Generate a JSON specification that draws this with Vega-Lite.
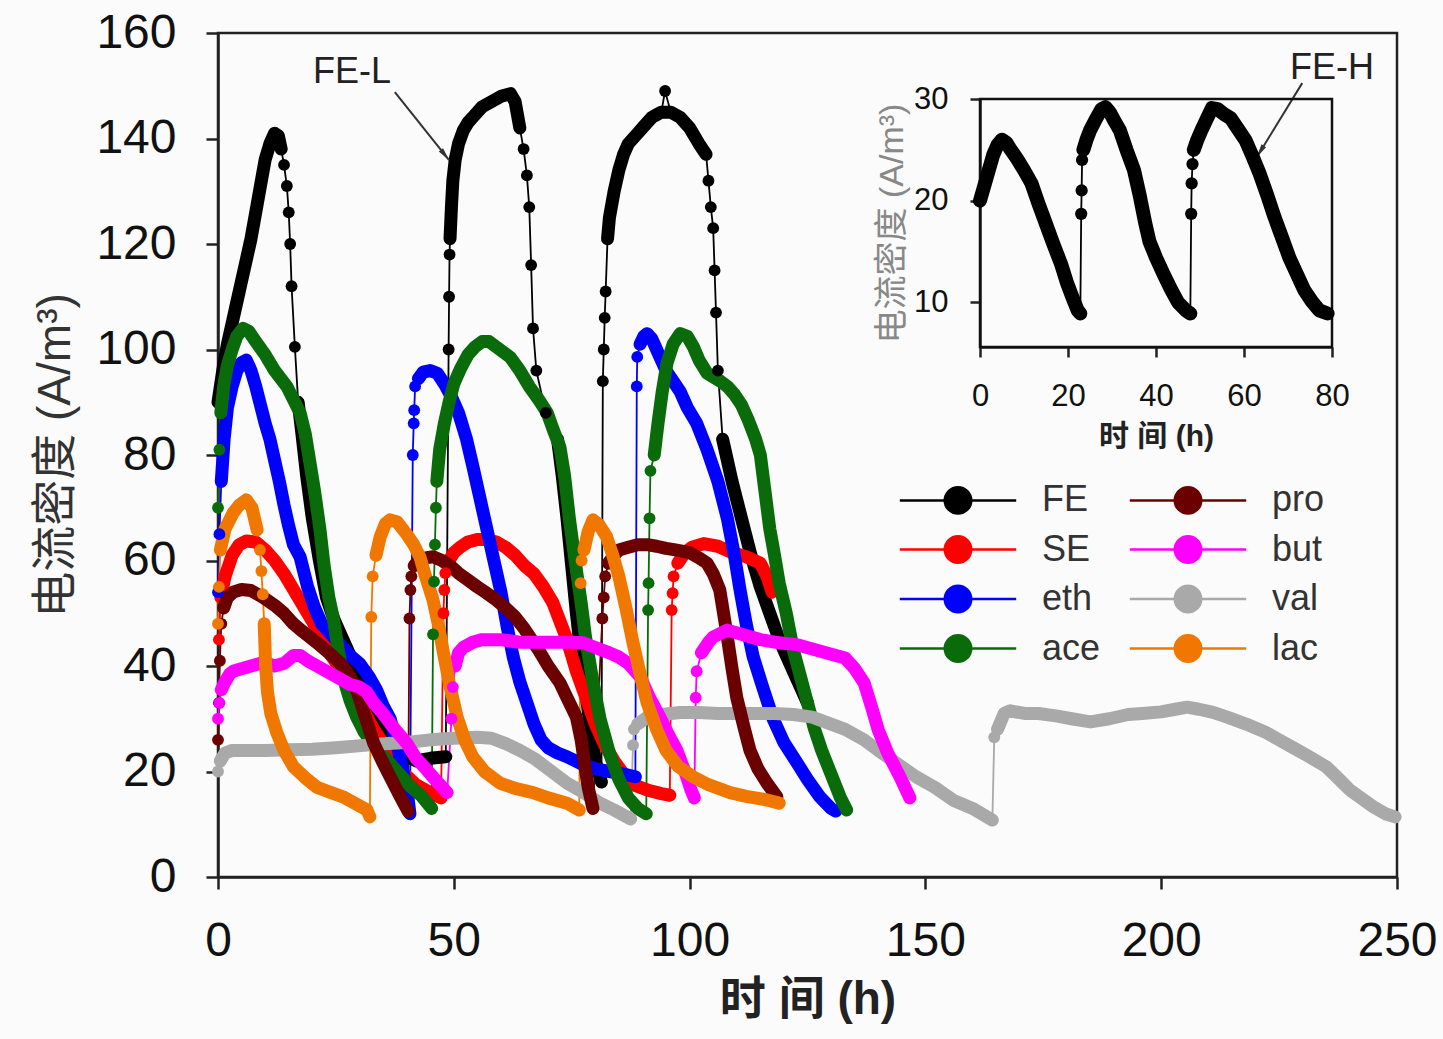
{
"$schema":"https://vega.github.io/schema/vega-lite/v6.json",
"width":1179,"height":844,
"autosize":"none",
"padding":{"left":218,"top":33,"right":46,"bottom":162},
"background":"#fbfbfb",
"config":{"view":{"stroke":"#222","strokeWidth":2.5},"axis":{"grid":false,"labelFont":"Liberation Sans","titleFont":"Liberation Sans, Noto Sans CJK SC","labelColor":"#111","domainColor":"#222","tickColor":"#222","domainWidth":2.5,"tickWidth":2.5,"labelFlush":false,"labelOverlap":false}},
"datasets":{
"main":[
{"s":"FE","c":1,"t":0,"v":90},{"s":"FE","c":1,"t":1,"v":96},{"s":"FE","c":1,"t":2,"v":101},{"s":"FE","c":1,"t":3,"v":105},{"s":"FE","c":1,"t":4,"v":109},{"s":"FE","c":1,"t":5,"v":113},{"s":"FE","c":1,"t":6,"v":117},{"s":"FE","c":1,"t":7,"v":121},{"s":"FE","c":1,"t":8,"v":126},{"s":"FE","c":1,"t":9,"v":131},{"s":"FE","c":1,"t":10,"v":136},{"s":"FE","c":1,"t":11,"v":139},{"s":"FE","c":1,"t":12,"v":141},{"s":"FE","c":1,"t":12.8,"v":140.5},{"s":"FE","c":1,"t":13.4,"v":138},
{"s":"FE","c":0,"t":14,"v":135},{"s":"FE","c":0,"t":14.6,"v":131},{"s":"FE","c":0,"t":15,"v":126},{"s":"FE","c":0,"t":15.3,"v":120},{"s":"FE","c":0,"t":15.6,"v":112},{"s":"FE","c":0,"t":16.3,"v":100.5},
{"s":"FE","c":2,"t":17,"v":90},{"s":"FE","c":2,"t":17.8,"v":84},{"s":"FE","c":2,"t":18.8,"v":76},{"s":"FE","c":2,"t":20,"v":68},{"s":"FE","c":2,"t":21.5,"v":60},{"s":"FE","c":2,"t":23,"v":53},{"s":"FE","c":2,"t":24.5,"v":49},{"s":"FE","c":2,"t":26,"v":46},{"s":"FE","c":2,"t":28,"v":42},{"s":"FE","c":2,"t":30,"v":38},{"s":"FE","c":2,"t":32,"v":34},{"s":"FE","c":2,"t":34,"v":30.5},{"s":"FE","c":2,"t":36,"v":27.5},{"s":"FE","c":2,"t":38,"v":25},{"s":"FE","c":2,"t":40,"v":23},{"s":"FE","c":2,"t":42,"v":22},{"s":"FE","c":2,"t":45,"v":22.5},{"s":"FE","c":2,"t":48.3,"v":22.8},
{"s":"FE","c":0,"t":48.9,"v":100},{"s":"FE","c":0,"t":49,"v":110},{"s":"FE","c":0,"t":49.1,"v":118},
{"s":"FE","c":3,"t":49.2,"v":121},{"s":"FE","c":3,"t":49.5,"v":127},{"s":"FE","c":3,"t":49.8,"v":132},{"s":"FE","c":3,"t":50.3,"v":136},{"s":"FE","c":3,"t":51,"v":139},{"s":"FE","c":3,"t":52,"v":141.5},{"s":"FE","c":3,"t":53,"v":143},{"s":"FE","c":3,"t":54.5,"v":144.5},{"s":"FE","c":3,"t":56,"v":146},{"s":"FE","c":3,"t":58,"v":147},{"s":"FE","c":3,"t":60,"v":148},{"s":"FE","c":3,"t":62,"v":148.5},{"s":"FE","c":3,"t":63,"v":147},{"s":"FE","c":3,"t":64,"v":142},
{"s":"FE","c":0,"t":64.8,"v":138},{"s":"FE","c":0,"t":65.5,"v":133},{"s":"FE","c":0,"t":66,"v":127},{"s":"FE","c":0,"t":66.4,"v":116},{"s":"FE","c":0,"t":66.8,"v":104},{"s":"FE","c":0,"t":67.5,"v":96},{"s":"FE","c":0,"t":69.5,"v":88},
{"s":"FE","c":4,"t":72,"v":83},{"s":"FE","c":4,"t":73,"v":76},{"s":"FE","c":4,"t":74,"v":68},{"s":"FE","c":4,"t":75,"v":59},{"s":"FE","c":4,"t":76,"v":50},{"s":"FE","c":4,"t":77,"v":42},{"s":"FE","c":4,"t":78,"v":35},{"s":"FE","c":4,"t":79,"v":28},{"s":"FE","c":4,"t":80,"v":22},{"s":"FE","c":4,"t":81.3,"v":18},
{"s":"FE","c":0,"t":81.6,"v":94},{"s":"FE","c":0,"t":81.8,"v":100},{"s":"FE","c":0,"t":82,"v":106},{"s":"FE","c":0,"t":82.2,"v":111},
{"s":"FE","c":5,"t":82.6,"v":121},{"s":"FE","c":5,"t":83,"v":125},{"s":"FE","c":5,"t":84,"v":130},{"s":"FE","c":5,"t":85,"v":134},{"s":"FE","c":5,"t":86,"v":137},{"s":"FE","c":5,"t":87,"v":139},{"s":"FE","c":5,"t":88,"v":140},{"s":"FE","c":5,"t":89,"v":141},{"s":"FE","c":5,"t":90,"v":142},{"s":"FE","c":5,"t":91,"v":143},{"s":"FE","c":5,"t":92,"v":144},{"s":"FE","c":5,"t":93,"v":144.5},{"s":"FE","c":5,"t":94,"v":145},{"s":"FE","c":0,"t":94.8,"v":149},{"s":"FE","c":5,"t":96,"v":145},{"s":"FE","c":5,"t":98,"v":144},{"s":"FE","c":5,"t":100,"v":142},{"s":"FE","c":5,"t":102,"v":139},{"s":"FE","c":5,"t":103.5,"v":137},
{"s":"FE","c":0,"t":104,"v":132},{"s":"FE","c":0,"t":104.5,"v":127},{"s":"FE","c":0,"t":105,"v":123},{"s":"FE","c":0,"t":105.3,"v":115},{"s":"FE","c":0,"t":105.6,"v":107},{"s":"FE","c":0,"t":106,"v":96},
{"s":"FE","c":6,"t":107,"v":83},{"s":"FE","c":6,"t":109,"v":75},{"s":"FE","c":6,"t":111,"v":68},{"s":"FE","c":6,"t":113,"v":61},{"s":"FE","c":6,"t":115,"v":55},{"s":"FE","c":6,"t":117,"v":50},{"s":"FE","c":6,"t":119,"v":45},{"s":"FE","c":6,"t":121,"v":41},{"s":"FE","c":6,"t":123,"v":37},{"s":"FE","c":6,"t":125,"v":33},

{"s":"SE","c":0,"t":0.2,"v":45},
{"s":"SE","c":1,"t":0.6,"v":53},{"s":"SE","c":1,"t":1.5,"v":57},{"s":"SE","c":1,"t":3,"v":61},{"s":"SE","c":1,"t":4.5,"v":63},{"s":"SE","c":1,"t":6,"v":63.7},{"s":"SE","c":1,"t":8,"v":63.5},{"s":"SE","c":1,"t":10,"v":62},{"s":"SE","c":1,"t":12,"v":60},{"s":"SE","c":1,"t":14,"v":57.5},{"s":"SE","c":1,"t":16,"v":54.5},{"s":"SE","c":1,"t":18,"v":51.5},{"s":"SE","c":1,"t":20,"v":48.5},{"s":"SE","c":1,"t":22,"v":45},{"s":"SE","c":1,"t":24,"v":42},{"s":"SE","c":1,"t":27,"v":38},{"s":"SE","c":1,"t":30,"v":33},{"s":"SE","c":1,"t":33,"v":28},{"s":"SE","c":1,"t":36,"v":24},{"s":"SE","c":1,"t":39,"v":20},{"s":"SE","c":1,"t":42,"v":17.5},{"s":"SE","c":1,"t":45,"v":16},{"s":"SE","c":1,"t":47.3,"v":15},
{"s":"SE","c":0,"t":47.8,"v":50},{"s":"SE","c":0,"t":48,"v":54.4},{"s":"SE","c":0,"t":48.2,"v":57.6},
{"s":"SE","c":2,"t":49,"v":60},{"s":"SE","c":2,"t":50,"v":61.5},{"s":"SE","c":2,"t":51.3,"v":62.5},{"s":"SE","c":2,"t":53,"v":63.5},{"s":"SE","c":2,"t":55,"v":64},{"s":"SE","c":2,"t":57,"v":64},{"s":"SE","c":2,"t":59,"v":63.5},{"s":"SE","c":2,"t":61,"v":62.5},{"s":"SE","c":2,"t":63,"v":61},{"s":"SE","c":2,"t":65,"v":59},{"s":"SE","c":2,"t":67,"v":57.5},{"s":"SE","c":2,"t":69,"v":55},{"s":"SE","c":2,"t":71,"v":52},{"s":"SE","c":2,"t":72.5,"v":48.5},{"s":"SE","c":2,"t":74,"v":45},{"s":"SE","c":2,"t":76,"v":39},{"s":"SE","c":2,"t":78,"v":34},{"s":"SE","c":2,"t":80,"v":29},{"s":"SE","c":2,"t":82,"v":25},{"s":"SE","c":2,"t":84,"v":22},{"s":"SE","c":2,"t":86,"v":19.5},{"s":"SE","c":2,"t":88,"v":17.5},{"s":"SE","c":2,"t":91,"v":16.5},{"s":"SE","c":2,"t":94,"v":15.8},{"s":"SE","c":2,"t":95.8,"v":15.5},
{"s":"SE","c":0,"t":96.2,"v":50.6},{"s":"SE","c":0,"t":96.4,"v":53.8},{"s":"SE","c":0,"t":96.6,"v":57},
{"s":"SE","c":3,"t":97.5,"v":59.5},{"s":"SE","c":3,"t":99,"v":61.5},{"s":"SE","c":3,"t":100.5,"v":62.5},{"s":"SE","c":3,"t":103,"v":63.2},{"s":"SE","c":3,"t":106,"v":62.7},{"s":"SE","c":3,"t":109,"v":61.5},{"s":"SE","c":3,"t":112,"v":60.7},{"s":"SE","c":3,"t":115,"v":59.5},{"s":"SE","c":3,"t":116.4,"v":57},{"s":"SE","c":3,"t":117.5,"v":54},

{"s":"eth","c":0,"t":0,"v":54},{"s":"eth","c":0,"t":0.3,"v":65},
{"s":"eth","c":1,"t":0.7,"v":75},{"s":"eth","c":1,"t":1.3,"v":83},{"s":"eth","c":1,"t":2,"v":89},{"s":"eth","c":1,"t":3,"v":93},{"s":"eth","c":1,"t":4,"v":96},{"s":"eth","c":1,"t":5,"v":97.5},{"s":"eth","c":1,"t":6,"v":98},{"s":"eth","c":1,"t":7,"v":96},{"s":"eth","c":1,"t":8,"v":93},{"s":"eth","c":1,"t":9,"v":89.5},{"s":"eth","c":1,"t":10,"v":86},{"s":"eth","c":1,"t":11,"v":83},{"s":"eth","c":1,"t":12,"v":79},{"s":"eth","c":1,"t":13,"v":75},{"s":"eth","c":1,"t":14,"v":70.5},{"s":"eth","c":1,"t":15,"v":66.5},{"s":"eth","c":1,"t":16,"v":63},{"s":"eth","c":1,"t":17.4,"v":60.7},{"s":"eth","c":1,"t":19,"v":55},{"s":"eth","c":1,"t":20.5,"v":51},{"s":"eth","c":1,"t":22,"v":48},{"s":"eth","c":1,"t":24,"v":46},{"s":"eth","c":1,"t":26,"v":44},{"s":"eth","c":1,"t":28,"v":42},{"s":"eth","c":1,"t":30,"v":40.5},{"s":"eth","c":1,"t":32,"v":38},{"s":"eth","c":1,"t":33.6,"v":35.5},{"s":"eth","c":1,"t":35,"v":32.5},{"s":"eth","c":1,"t":36.5,"v":30},{"s":"eth","c":1,"t":38,"v":25},{"s":"eth","c":1,"t":39,"v":21},{"s":"eth","c":1,"t":40,"v":17},{"s":"eth","c":1,"t":40.7,"v":12},
{"s":"eth","c":0,"t":41.3,"v":80},{"s":"eth","c":0,"t":41.5,"v":86},{"s":"eth","c":0,"t":41.6,"v":88.5},{"s":"eth","c":0,"t":41.8,"v":93},
{"s":"eth","c":2,"t":42.5,"v":94.5},{"s":"eth","c":2,"t":43.5,"v":95.7},{"s":"eth","c":2,"t":45,"v":96},{"s":"eth","c":2,"t":46.5,"v":95.5},{"s":"eth","c":2,"t":48,"v":93.5},{"s":"eth","c":2,"t":49.5,"v":91},{"s":"eth","c":2,"t":51,"v":88},{"s":"eth","c":2,"t":52.7,"v":83},{"s":"eth","c":2,"t":54,"v":78},{"s":"eth","c":2,"t":55.5,"v":72},{"s":"eth","c":2,"t":57,"v":66},{"s":"eth","c":2,"t":58.5,"v":60},{"s":"eth","c":2,"t":60,"v":54},{"s":"eth","c":2,"t":61.3,"v":47.5},{"s":"eth","c":2,"t":62.6,"v":41.7},{"s":"eth","c":2,"t":64,"v":37},{"s":"eth","c":2,"t":65.5,"v":33},{"s":"eth","c":2,"t":67,"v":29},{"s":"eth","c":2,"t":68.5,"v":26},{"s":"eth","c":2,"t":70,"v":24.5},{"s":"eth","c":2,"t":72,"v":23.5},{"s":"eth","c":2,"t":74,"v":22.8},{"s":"eth","c":2,"t":77,"v":21.5},{"s":"eth","c":2,"t":80,"v":20.5},{"s":"eth","c":2,"t":83,"v":20},{"s":"eth","c":2,"t":86,"v":19.5},{"s":"eth","c":2,"t":88.5,"v":19},
{"s":"eth","c":0,"t":88.8,"v":93},{"s":"eth","c":0,"t":88.9,"v":98.6},
{"s":"eth","c":3,"t":89.5,"v":101},{"s":"eth","c":3,"t":90.3,"v":102.5},{"s":"eth","c":3,"t":91,"v":103},{"s":"eth","c":3,"t":92,"v":102},{"s":"eth","c":3,"t":93,"v":100},{"s":"eth","c":3,"t":94,"v":98},{"s":"eth","c":3,"t":95,"v":96},{"s":"eth","c":3,"t":96.5,"v":94},{"s":"eth","c":3,"t":98,"v":92},{"s":"eth","c":3,"t":99.5,"v":89},{"s":"eth","c":3,"t":101.5,"v":86},{"s":"eth","c":3,"t":103.7,"v":81},{"s":"eth","c":3,"t":106,"v":75},{"s":"eth","c":3,"t":108,"v":68},{"s":"eth","c":3,"t":109.5,"v":61},{"s":"eth","c":3,"t":110.7,"v":54.4},{"s":"eth","c":3,"t":112,"v":48},{"s":"eth","c":3,"t":113.5,"v":41.7},{"s":"eth","c":3,"t":115.5,"v":36},{"s":"eth","c":3,"t":117.7,"v":30},{"s":"eth","c":3,"t":120,"v":25.5},{"s":"eth","c":3,"t":122.8,"v":21.6},{"s":"eth","c":3,"t":125,"v":18.5},{"s":"eth","c":3,"t":127.6,"v":15.2},{"s":"eth","c":3,"t":130,"v":13},{"s":"eth","c":3,"t":131,"v":12.5},

{"s":"ace","c":0,"t":0,"v":70},{"s":"ace","c":0,"t":0.3,"v":81},
{"s":"ace","c":1,"t":0.6,"v":88},{"s":"ace","c":1,"t":1.2,"v":93},{"s":"ace","c":1,"t":2,"v":97},{"s":"ace","c":1,"t":3,"v":100},{"s":"ace","c":1,"t":4,"v":102.5},{"s":"ace","c":1,"t":5.3,"v":104},{"s":"ace","c":1,"t":6.5,"v":103.5},{"s":"ace","c":1,"t":8,"v":101.5},{"s":"ace","c":1,"t":10,"v":99},{"s":"ace","c":1,"t":12,"v":96},{"s":"ace","c":1,"t":14.6,"v":93},{"s":"ace","c":1,"t":16,"v":90.5},{"s":"ace","c":1,"t":17.4,"v":88},{"s":"ace","c":1,"t":18.5,"v":84},{"s":"ace","c":1,"t":19.5,"v":78.5},{"s":"ace","c":1,"t":20.5,"v":73},{"s":"ace","c":1,"t":21.6,"v":66},{"s":"ace","c":1,"t":22.5,"v":59},{"s":"ace","c":1,"t":23.5,"v":53},{"s":"ace","c":1,"t":24.4,"v":49.3},{"s":"ace","c":1,"t":25.5,"v":43},{"s":"ace","c":1,"t":26.5,"v":38},{"s":"ace","c":1,"t":28,"v":33.5},{"s":"ace","c":1,"t":29.4,"v":30.3},{"s":"ace","c":1,"t":31,"v":27.5},{"s":"ace","c":1,"t":33,"v":25},{"s":"ace","c":1,"t":35,"v":23},{"s":"ace","c":1,"t":37,"v":21},{"s":"ace","c":1,"t":39,"v":19},{"s":"ace","c":1,"t":41,"v":17},{"s":"ace","c":1,"t":43,"v":15.5},{"s":"ace","c":1,"t":45.3,"v":13},
{"s":"ace","c":0,"t":45.6,"v":46},{"s":"ace","c":0,"t":45.8,"v":56},{"s":"ace","c":0,"t":46,"v":63},{"s":"ace","c":0,"t":46.2,"v":70},
{"s":"ace","c":2,"t":46.4,"v":75},{"s":"ace","c":2,"t":47,"v":81},{"s":"ace","c":2,"t":48,"v":86},{"s":"ace","c":2,"t":49,"v":90},{"s":"ace","c":2,"t":50,"v":93.5},{"s":"ace","c":2,"t":51.5,"v":96.5},{"s":"ace","c":2,"t":53,"v":99},{"s":"ace","c":2,"t":54.5,"v":100.5},{"s":"ace","c":2,"t":56,"v":101.5},{"s":"ace","c":2,"t":57.5,"v":101.5},{"s":"ace","c":2,"t":59,"v":100.5},{"s":"ace","c":2,"t":60.5,"v":99.5},{"s":"ace","c":2,"t":62,"v":98.5},{"s":"ace","c":2,"t":64,"v":96},{"s":"ace","c":2,"t":66,"v":93},{"s":"ace","c":2,"t":68,"v":90.5},{"s":"ace","c":2,"t":69.8,"v":88},{"s":"ace","c":2,"t":71,"v":85},{"s":"ace","c":2,"t":72.5,"v":81.5},{"s":"ace","c":2,"t":73.5,"v":76},{"s":"ace","c":2,"t":74.5,"v":68},{"s":"ace","c":2,"t":75.7,"v":60},{"s":"ace","c":2,"t":77,"v":52},{"s":"ace","c":2,"t":78,"v":45},{"s":"ace","c":2,"t":79.5,"v":37},{"s":"ace","c":2,"t":81,"v":30},{"s":"ace","c":2,"t":83,"v":23.5},{"s":"ace","c":2,"t":85,"v":18.5},{"s":"ace","c":2,"t":87,"v":15},{"s":"ace","c":2,"t":89,"v":13},{"s":"ace","c":2,"t":90.8,"v":12},
{"s":"ace","c":0,"t":91.2,"v":50.6},{"s":"ace","c":0,"t":91.3,"v":55.7},{"s":"ace","c":0,"t":91.5,"v":68},{"s":"ace","c":0,"t":91.7,"v":77},
{"s":"ace","c":3,"t":92.5,"v":80},{"s":"ace","c":3,"t":93.3,"v":86},{"s":"ace","c":3,"t":94.2,"v":92},{"s":"ace","c":3,"t":95.2,"v":97.4},{"s":"ace","c":3,"t":96.5,"v":101},{"s":"ace","c":3,"t":98,"v":103},{"s":"ace","c":3,"t":99.5,"v":102.5},{"s":"ace","c":3,"t":100.8,"v":100.5},{"s":"ace","c":3,"t":102,"v":98},{"s":"ace","c":3,"t":103.7,"v":95.5},{"s":"ace","c":3,"t":105,"v":94.8},{"s":"ace","c":3,"t":106.5,"v":94},{"s":"ace","c":3,"t":108,"v":93},{"s":"ace","c":3,"t":109.5,"v":91.5},{"s":"ace","c":3,"t":111,"v":89.5},{"s":"ace","c":3,"t":112.5,"v":86.5},{"s":"ace","c":3,"t":114,"v":83},{"s":"ace","c":3,"t":115,"v":80},{"s":"ace","c":3,"t":116,"v":73},{"s":"ace","c":3,"t":117,"v":66},{"s":"ace","c":3,"t":118,"v":61},{"s":"ace","c":3,"t":119,"v":55.7},{"s":"ace","c":3,"t":120.5,"v":50},{"s":"ace","c":3,"t":122,"v":43},{"s":"ace","c":3,"t":123.5,"v":38},{"s":"ace","c":3,"t":125,"v":33},{"s":"ace","c":3,"t":126.5,"v":28},{"s":"ace","c":3,"t":128,"v":24},{"s":"ace","c":3,"t":130,"v":19.5},{"s":"ace","c":3,"t":132,"v":15},{"s":"ace","c":3,"t":133.3,"v":12.7},

{"s":"val","c":0,"t":0,"v":20},
{"s":"val","c":1,"t":0.5,"v":22},{"s":"val","c":1,"t":1.5,"v":23.5},{"s":"val","c":1,"t":3,"v":24},{"s":"val","c":1,"t":6,"v":24},{"s":"val","c":1,"t":10,"v":24},{"s":"val","c":1,"t":15,"v":24.1},{"s":"val","c":1,"t":20,"v":24.2},{"s":"val","c":1,"t":25,"v":24.5},{"s":"val","c":1,"t":31.6,"v":25},{"s":"val","c":1,"t":36,"v":25.3},{"s":"val","c":1,"t":40,"v":25.5},{"s":"val","c":1,"t":45,"v":26},{"s":"val","c":1,"t":50,"v":26.3},{"s":"val","c":1,"t":55,"v":26.5},{"s":"val","c":1,"t":58,"v":26.3},{"s":"val","c":1,"t":61,"v":25.3},{"s":"val","c":1,"t":64,"v":24},{"s":"val","c":1,"t":67,"v":22.5},{"s":"val","c":1,"t":70,"v":20.5},{"s":"val","c":1,"t":74,"v":17.8},{"s":"val","c":1,"t":77,"v":16.3},{"s":"val","c":1,"t":81,"v":14},{"s":"val","c":1,"t":84,"v":12.7},{"s":"val","c":1,"t":87.5,"v":11},
{"s":"val","c":0,"t":88,"v":25},{"s":"val","c":0,"t":88.2,"v":28},
{"s":"val","c":2,"t":89,"v":29},{"s":"val","c":2,"t":91,"v":30.3},{"s":"val","c":2,"t":94,"v":30.8},{"s":"val","c":2,"t":98,"v":31.2},{"s":"val","c":2,"t":102,"v":31.2},{"s":"val","c":2,"t":106,"v":31},{"s":"val","c":2,"t":110,"v":31},{"s":"val","c":2,"t":114,"v":31},{"s":"val","c":2,"t":118,"v":31},{"s":"val","c":2,"t":122,"v":30.8},{"s":"val","c":2,"t":126,"v":30.3},{"s":"val","c":2,"t":130,"v":29},{"s":"val","c":2,"t":133,"v":28},{"s":"val","c":2,"t":137,"v":26},{"s":"val","c":2,"t":140,"v":24},{"s":"val","c":2,"t":144,"v":21.5},{"s":"val","c":2,"t":148,"v":19},{"s":"val","c":2,"t":152,"v":17},{"s":"val","c":2,"t":156,"v":14.5},{"s":"val","c":2,"t":160,"v":13},{"s":"val","c":2,"t":164.2,"v":10.8},
{"s":"val","c":0,"t":164.6,"v":26.5},
{"s":"val","c":3,"t":165.3,"v":28},{"s":"val","c":3,"t":166.7,"v":31},{"s":"val","c":3,"t":168,"v":31.5},{"s":"val","c":3,"t":171,"v":31},{"s":"val","c":3,"t":174,"v":31},{"s":"val","c":3,"t":178,"v":30.5},{"s":"val","c":3,"t":181,"v":30},{"s":"val","c":3,"t":185,"v":29.4},{"s":"val","c":3,"t":189,"v":30},{"s":"val","c":3,"t":193,"v":30.8},{"s":"val","c":3,"t":196,"v":31},{"s":"val","c":3,"t":200,"v":31.3},{"s":"val","c":3,"t":203,"v":31.8},{"s":"val","c":3,"t":205.5,"v":32.2},{"s":"val","c":3,"t":208,"v":31.8},{"s":"val","c":3,"t":211,"v":31.2},{"s":"val","c":3,"t":214,"v":30.3},{"s":"val","c":3,"t":218,"v":29},{"s":"val","c":3,"t":222,"v":27.5},{"s":"val","c":3,"t":225,"v":26},{"s":"val","c":3,"t":228,"v":24.5},{"s":"val","c":3,"t":231,"v":23},{"s":"val","c":3,"t":235,"v":20.9},{"s":"val","c":3,"t":238,"v":18.3},{"s":"val","c":3,"t":240,"v":16.5},{"s":"val","c":3,"t":242,"v":15.2},{"s":"val","c":3,"t":245,"v":13.3},{"s":"val","c":3,"t":247.5,"v":12},{"s":"val","c":3,"t":249.6,"v":11.4},

{"s":"pro","c":0,"t":0,"v":26},{"s":"pro","c":0,"t":0.2,"v":33},{"s":"pro","c":0,"t":0.4,"v":41},{"s":"pro","c":0,"t":0.7,"v":48},
{"s":"pro","c":1,"t":1.2,"v":51},{"s":"pro","c":1,"t":2,"v":53},{"s":"pro","c":1,"t":3.2,"v":54},{"s":"pro","c":1,"t":5,"v":54.5},{"s":"pro","c":1,"t":7,"v":54.3},{"s":"pro","c":1,"t":9,"v":53.3},{"s":"pro","c":1,"t":10.4,"v":52.5},{"s":"pro","c":1,"t":12,"v":51.5},{"s":"pro","c":1,"t":14,"v":50},{"s":"pro","c":1,"t":16,"v":48},{"s":"pro","c":1,"t":18,"v":46.5},{"s":"pro","c":1,"t":21,"v":44.4},{"s":"pro","c":1,"t":23.5,"v":42.5},{"s":"pro","c":1,"t":26,"v":40.5},{"s":"pro","c":1,"t":28,"v":38},{"s":"pro","c":1,"t":29.4,"v":35.5},{"s":"pro","c":1,"t":31,"v":31},{"s":"pro","c":1,"t":33,"v":25.4},{"s":"pro","c":1,"t":34.8,"v":22},{"s":"pro","c":1,"t":36.5,"v":19},{"s":"pro","c":1,"t":38.5,"v":15.5},{"s":"pro","c":1,"t":40.3,"v":12.5},
{"s":"pro","c":0,"t":40.6,"v":49},{"s":"pro","c":0,"t":40.8,"v":54.4},{"s":"pro","c":0,"t":41,"v":57},
{"s":"pro","c":2,"t":41.6,"v":59},{"s":"pro","c":2,"t":42.5,"v":60},{"s":"pro","c":2,"t":44,"v":60.5},{"s":"pro","c":2,"t":45.6,"v":60.7},{"s":"pro","c":2,"t":47.5,"v":60},{"s":"pro","c":2,"t":49.5,"v":58.8},{"s":"pro","c":2,"t":51,"v":57.6},{"s":"pro","c":2,"t":53,"v":56.3},{"s":"pro","c":2,"t":55,"v":55},{"s":"pro","c":2,"t":57,"v":53.8},{"s":"pro","c":2,"t":59,"v":52.5},{"s":"pro","c":2,"t":61,"v":51},{"s":"pro","c":2,"t":63,"v":49.3},{"s":"pro","c":2,"t":65,"v":47},{"s":"pro","c":2,"t":66.5,"v":45},{"s":"pro","c":2,"t":68,"v":43},{"s":"pro","c":2,"t":70,"v":40},{"s":"pro","c":2,"t":72.5,"v":36.8},{"s":"pro","c":2,"t":74,"v":34},{"s":"pro","c":2,"t":76,"v":30.3},{"s":"pro","c":2,"t":77,"v":26},{"s":"pro","c":2,"t":77.8,"v":21},{"s":"pro","c":2,"t":78.5,"v":17},{"s":"pro","c":2,"t":79.5,"v":13},
{"s":"pro","c":0,"t":81.5,"v":49},{"s":"pro","c":0,"t":81.8,"v":53},{"s":"pro","c":0,"t":82.1,"v":57},
{"s":"pro","c":3,"t":82.8,"v":59.5},{"s":"pro","c":3,"t":84,"v":61},{"s":"pro","c":3,"t":85,"v":62},{"s":"pro","c":3,"t":87,"v":62.5},{"s":"pro","c":3,"t":89,"v":63},{"s":"pro","c":3,"t":91,"v":63},{"s":"pro","c":3,"t":93,"v":62.7},{"s":"pro","c":3,"t":95,"v":62.3},{"s":"pro","c":3,"t":97,"v":62},{"s":"pro","c":3,"t":100,"v":61.5},{"s":"pro","c":3,"t":102,"v":60.5},{"s":"pro","c":3,"t":103.7,"v":59.5},{"s":"pro","c":3,"t":105,"v":57.5},{"s":"pro","c":3,"t":106.4,"v":54.4},{"s":"pro","c":3,"t":107.2,"v":50},{"s":"pro","c":3,"t":108,"v":45.5},{"s":"pro","c":3,"t":109,"v":39.5},{"s":"pro","c":3,"t":110,"v":34},{"s":"pro","c":3,"t":111.5,"v":28.5},{"s":"pro","c":3,"t":112.8,"v":24},{"s":"pro","c":3,"t":114.5,"v":20.5},{"s":"pro","c":3,"t":116.4,"v":17.8},{"s":"pro","c":3,"t":118.5,"v":15.2},

{"s":"but","c":0,"t":0,"v":30},{"s":"but","c":0,"t":0.3,"v":33},
{"s":"but","c":1,"t":0.7,"v":35.5},{"s":"but","c":1,"t":1.5,"v":37},{"s":"but","c":1,"t":2.5,"v":38.5},{"s":"but","c":1,"t":3.2,"v":39},{"s":"but","c":1,"t":5,"v":39.5},{"s":"but","c":1,"t":7,"v":40},{"s":"but","c":1,"t":9,"v":40.5},{"s":"but","c":1,"t":10.4,"v":40.5},{"s":"but","c":1,"t":12,"v":40},{"s":"but","c":1,"t":14,"v":40.5},{"s":"but","c":1,"t":16,"v":42},{"s":"but","c":1,"t":17.4,"v":42},{"s":"but","c":1,"t":19,"v":41},{"s":"but","c":1,"t":20,"v":40.5},{"s":"but","c":1,"t":22,"v":39.5},{"s":"but","c":1,"t":24,"v":38.5},{"s":"but","c":1,"t":26,"v":37.5},{"s":"but","c":1,"t":28,"v":36.5},{"s":"but","c":1,"t":30,"v":36},{"s":"but","c":1,"t":31.6,"v":35},{"s":"but","c":1,"t":33,"v":33},{"s":"but","c":1,"t":34.5,"v":31.5},{"s":"but","c":1,"t":35.8,"v":30},{"s":"but","c":1,"t":37.5,"v":28},{"s":"but","c":1,"t":40,"v":25.4},{"s":"but","c":1,"t":42,"v":22.5},{"s":"but","c":1,"t":44.3,"v":20.3},{"s":"but","c":1,"t":46.5,"v":18},{"s":"but","c":1,"t":48.6,"v":16},
{"s":"but","c":0,"t":49.5,"v":30},{"s":"but","c":0,"t":49.8,"v":36},
{"s":"but","c":2,"t":50.3,"v":40},{"s":"but","c":2,"t":51,"v":42.5},{"s":"but","c":2,"t":52,"v":43.5},{"s":"but","c":2,"t":54,"v":44.5},{"s":"but","c":2,"t":56,"v":45},{"s":"but","c":2,"t":60,"v":45},{"s":"but","c":2,"t":64,"v":44.5},{"s":"but","c":2,"t":68,"v":44.5},{"s":"but","c":2,"t":72,"v":44.5},{"s":"but","c":2,"t":75,"v":44.5},{"s":"but","c":2,"t":77.4,"v":44.4},{"s":"but","c":2,"t":80,"v":43.5},{"s":"but","c":2,"t":83,"v":42.5},{"s":"but","c":2,"t":85,"v":41.7},{"s":"but","c":2,"t":87,"v":40.5},{"s":"but","c":2,"t":89.5,"v":38},{"s":"but","c":2,"t":91.5,"v":34},{"s":"but","c":2,"t":93.7,"v":30.3},{"s":"but","c":2,"t":95.5,"v":27},{"s":"but","c":2,"t":97.3,"v":24},{"s":"but","c":2,"t":99,"v":20},{"s":"but","c":2,"t":100.3,"v":16.5},{"s":"but","c":2,"t":101,"v":15},
{"s":"but","c":0,"t":101.3,"v":34},{"s":"but","c":0,"t":101.5,"v":39},
{"s":"but","c":3,"t":102.5,"v":42.5},{"s":"but","c":3,"t":104,"v":44.5},{"s":"but","c":3,"t":105,"v":45.5},{"s":"but","c":3,"t":108,"v":46.8},{"s":"but","c":3,"t":111,"v":46},{"s":"but","c":3,"t":115,"v":45},{"s":"but","c":3,"t":119,"v":44.4},{"s":"but","c":3,"t":123,"v":44},{"s":"but","c":3,"t":127,"v":43},{"s":"but","c":3,"t":131,"v":42},{"s":"but","c":3,"t":133,"v":41.5},{"s":"but","c":3,"t":135,"v":39.5},{"s":"but","c":3,"t":137,"v":36.8},{"s":"but","c":3,"t":138.5,"v":32.5},{"s":"but","c":3,"t":140,"v":27.9},{"s":"but","c":3,"t":142,"v":23.5},{"s":"but","c":3,"t":144.6,"v":19},{"s":"but","c":3,"t":146.7,"v":15},

{"s":"lac","c":0,"t":0,"v":48},{"s":"lac","c":0,"t":0.2,"v":55},
{"s":"lac","c":1,"t":0.5,"v":62},{"s":"lac","c":1,"t":1.5,"v":66},{"s":"lac","c":1,"t":3.2,"v":69},{"s":"lac","c":1,"t":4.5,"v":70.5},{"s":"lac","c":1,"t":6,"v":71.5},{"s":"lac","c":1,"t":7.2,"v":70},{"s":"lac","c":1,"t":8.3,"v":65.8},
{"s":"lac","c":0,"t":8.9,"v":62},{"s":"lac","c":0,"t":9.2,"v":58},{"s":"lac","c":0,"t":9.5,"v":53.6},
{"s":"lac","c":2,"t":9.8,"v":48},{"s":"lac","c":2,"t":10.1,"v":40},{"s":"lac","c":2,"t":10.5,"v":35},{"s":"lac","c":2,"t":11.2,"v":31},{"s":"lac","c":2,"t":12.5,"v":27.3},{"s":"lac","c":2,"t":14,"v":24},{"s":"lac","c":2,"t":16,"v":20.9},{"s":"lac","c":2,"t":18.5,"v":18.8},{"s":"lac","c":2,"t":21,"v":17},{"s":"lac","c":2,"t":24,"v":16},{"s":"lac","c":2,"t":26.5,"v":15.2},{"s":"lac","c":2,"t":29,"v":14},{"s":"lac","c":2,"t":31.6,"v":12.7},{"s":"lac","c":2,"t":32.2,"v":11.4},
{"s":"lac","c":0,"t":32.5,"v":49.3},{"s":"lac","c":0,"t":32.8,"v":57},
{"s":"lac","c":3,"t":33.5,"v":61},{"s":"lac","c":3,"t":34.4,"v":64.5},{"s":"lac","c":3,"t":35.5,"v":67},{"s":"lac","c":3,"t":36.5,"v":67.7},{"s":"lac","c":3,"t":38,"v":67.3},{"s":"lac","c":3,"t":40,"v":65},{"s":"lac","c":3,"t":41.5,"v":63},{"s":"lac","c":3,"t":42.8,"v":60.7},{"s":"lac","c":3,"t":44,"v":57},{"s":"lac","c":3,"t":45.6,"v":52.5},{"s":"lac","c":3,"t":46.7,"v":48},{"s":"lac","c":3,"t":47.7,"v":43},{"s":"lac","c":3,"t":49,"v":37},{"s":"lac","c":3,"t":50.7,"v":30.3},{"s":"lac","c":3,"t":52.3,"v":26},{"s":"lac","c":3,"t":54,"v":22.8},{"s":"lac","c":3,"t":56.5,"v":20},{"s":"lac","c":3,"t":59.8,"v":17.8},{"s":"lac","c":3,"t":63,"v":16.8},{"s":"lac","c":3,"t":66.8,"v":16},{"s":"lac","c":3,"t":70,"v":15},{"s":"lac","c":3,"t":74,"v":14},{"s":"lac","c":3,"t":76.6,"v":12.7},
{"s":"lac","c":0,"t":76.9,"v":55.7},{"s":"lac","c":0,"t":77.1,"v":60},
{"s":"lac","c":4,"t":77.6,"v":62},{"s":"lac","c":4,"t":78.5,"v":65.5},{"s":"lac","c":4,"t":79.5,"v":67.7},{"s":"lac","c":4,"t":80.8,"v":66.8},{"s":"lac","c":4,"t":82.4,"v":64.5},{"s":"lac","c":4,"t":83.7,"v":61},{"s":"lac","c":4,"t":85,"v":57},{"s":"lac","c":4,"t":86.5,"v":51},{"s":"lac","c":4,"t":88,"v":44.4},{"s":"lac","c":4,"t":89.5,"v":38.5},{"s":"lac","c":4,"t":91,"v":33},{"s":"lac","c":4,"t":93,"v":28},{"s":"lac","c":4,"t":95,"v":24},{"s":"lac","c":4,"t":97.5,"v":21},{"s":"lac","c":4,"t":100.7,"v":19},{"s":"lac","c":4,"t":104,"v":17.5},{"s":"lac","c":4,"t":108.6,"v":16},{"s":"lac","c":4,"t":112,"v":15.3},{"s":"lac","c":4,"t":116.4,"v":14.6},{"s":"lac","c":4,"t":119,"v":14}
],
"inset":[
{"c":1,"t":0,"v":20},{"c":1,"t":1,"v":21.5},{"c":1,"t":2,"v":23},{"c":1,"t":3,"v":24.5},{"c":1,"t":4,"v":25.5},{"c":1,"t":5,"v":26},{"c":1,"t":6,"v":25.7},{"c":1,"t":7,"v":25},{"c":1,"t":8.3,"v":24.2},{"c":1,"t":10,"v":23},{"c":1,"t":11.7,"v":21.7},{"c":1,"t":13.3,"v":19.7},{"c":1,"t":15,"v":17.7},{"c":1,"t":16.7,"v":15.7},{"c":1,"t":18.4,"v":13.8},{"c":1,"t":19.7,"v":12},{"c":1,"t":21,"v":10.5},{"c":1,"t":22.2,"v":9.2},{"c":1,"t":22.8,"v":8.9},
{"c":0,"t":23,"v":18.7},{"c":0,"t":23.1,"v":21},{"c":0,"t":23.2,"v":24},
{"c":2,"t":23.5,"v":25},{"c":2,"t":24.2,"v":26},{"c":2,"t":25,"v":26.9},{"c":2,"t":26.3,"v":28},{"c":2,"t":27.6,"v":29},{"c":2,"t":28.5,"v":29.2},{"c":2,"t":29.5,"v":28.7},{"c":2,"t":30.6,"v":27.8},{"c":2,"t":31.8,"v":26.9},{"c":2,"t":33.3,"v":25},{"c":2,"t":35,"v":23},{"c":2,"t":36.3,"v":20.5},{"c":2,"t":37.6,"v":17.7},{"c":2,"t":38.5,"v":16},{"c":2,"t":40,"v":14.4},{"c":2,"t":41.8,"v":12.7},{"c":2,"t":43.5,"v":11.2},{"c":2,"t":45,"v":10},{"c":2,"t":46.8,"v":9.2},{"c":2,"t":47.8,"v":8.9},
{"c":0,"t":48,"v":18.7},{"c":0,"t":48.1,"v":21.7},{"c":0,"t":48.3,"v":23.6},
{"c":3,"t":48.6,"v":25},{"c":3,"t":49.4,"v":26},{"c":3,"t":50.3,"v":26.9},{"c":3,"t":51.5,"v":28},{"c":3,"t":52.7,"v":29.1},{"c":3,"t":54,"v":29},{"c":3,"t":55.5,"v":28.5},{"c":3,"t":57,"v":28.1},{"c":3,"t":58.7,"v":27},{"c":3,"t":60.4,"v":25.9},{"c":3,"t":62,"v":24.3},{"c":3,"t":63.6,"v":22.6},{"c":3,"t":65.3,"v":20.5},{"c":3,"t":67,"v":18.3},{"c":3,"t":68.7,"v":16.3},{"c":3,"t":70.3,"v":14.4},{"c":3,"t":72,"v":12.8},{"c":3,"t":73.7,"v":11.2},{"c":3,"t":75.4,"v":10.1},{"c":3,"t":77.1,"v":9.2},{"c":3,"t":79,"v":8.9}
],
"notes":[{"label":"FE-L","t":28.4,"v":152.6},{"label":"FE-H","t":236.2,"v":153.4}],
"arrows":[{"label":"FE-L","t":37.5,"v":148.8,"t2":49.0,"v2":135.9},{"label":"FE-H","t":229.9,"v":150.5,"t2":220.3,"v2":136.5}]
},
"layer":[
{
"layer":[
{"data":{"name":"main"},
 "mark":{"type":"line","strokeWidth":1.8},
 "encoding":{
  "x":{"field":"t","type":"quantitative","scale":{"domain":[0,250],"nice":false,"zero":false},
       "axis":{"values":[0,50,100,150,200,250],"tickSize":12,"labelFontSize":48,"labelPadding":28,"title":"时 间  (h)","titleFontSize":46,"titleFontWeight":"bold","titleColor":"#222","titlePadding":12}},
  "y":{"field":"v","type":"quantitative","scale":{"domain":[0,160],"nice":false},
       "axis":{"values":[0,20,40,60,80,100,120,140,160],"tickSize":12,"labelFontSize":48,"labelPadding":30,"title":"电流密度 (A/m³)","titleFontSize":46,"titleFontWeight":"normal","titleColor":"#333","titlePadding":16}},
  "color":{"field":"s","type":"nominal",
     "scale":{"domain":["FE","SE","eth","ace","pro","but","val","lac"],"range":["#000000","#ff0000","#0000ff","#0a6b0a","#6b0000","#ff00ff","#a9a9a9","#f07800"]},
     "legend":{"orient":"none","legendX":722,"legendY":449,"columns":2,"title":null,"padding":0,
        "symbolType":"M-4.4,0H4.4M-1,0A1,1 0 1,0 1,0A1,1 0 1,0 -1,0Z","symbolSize":700,"symbolStrokeWidth":2.5,
        "labelFontSize":36,"labelFont":"Liberation Sans","labelColor":"#333","labelOffset":66,"columnPadding":23,"rowPadding":11.5,"labelLimit":300,
        "encode":{"symbols":{"update":{"fill":{"scale":"color","field":"value"},"stroke":{"scale":"color","field":"value"},"opacity":{"value":1}}}}}},
  "detail":{"field":"s"}
 }},
{"data":{"name":"main"},
 "transform":[{"filter":"datum.c > 0"}],
 "mark":{"type":"line","strokeWidth":13,"strokeCap":"round","strokeJoin":"round"},
 "encoding":{
  "x":{"field":"t","type":"quantitative"},
  "y":{"field":"v","type":"quantitative"},
  "color":{"field":"s","type":"nominal"},
  "detail":{"field":"c"}
 }},
{"data":{"name":"main"},
 "transform":[{"filter":"datum.c == 0"}],
 "mark":{"type":"point","filled":true,"size":140,"opacity":1},
 "encoding":{
  "x":{"field":"t","type":"quantitative"},
  "y":{"field":"v","type":"quantitative"},
  "color":{"field":"s","type":"nominal"}
 }},
{"data":{"name":"arrows"},
 "mark":{"type":"rule","color":"#333","strokeWidth":2},
 "encoding":{
  "x":{"field":"t","type":"quantitative"},
  "y":{"field":"v","type":"quantitative"},
  "x2":{"field":"t2"},
  "y2":{"field":"v2"}
 }},
{"data":{"name":"arrows"},
 "mark":{"type":"point","shape":"M0,0L0.5,2.4L-0.5,2.4Z","filled":true,"color":"#333","size":120,"opacity":1},
 "encoding":{
  "x":{"field":"t2","type":"quantitative"},
  "y":{"field":"v2","type":"quantitative"},
  "angle":{"field":"label","type":"nominal","scale":{"domain":["FE-L","FE-H"],"range":[141.5,211.3]},"legend":null}
 }},
{"data":{"name":"notes"},
 "mark":{"type":"text","font":"Liberation Sans","fontSize":36,"color":"#222","align":"center","baseline":"middle"},
 "encoding":{
  "x":{"field":"t","type":"quantitative"},
  "y":{"field":"v","type":"quantitative"},
  "text":{"field":"label"}
 }}
]
},
{
"layer":[
{"data":{"values":[{}]},
 "mark":{"type":"rect","fillOpacity":0,"stroke":"#111","strokeWidth":2.5},
 "encoding":{
  "x":{"datum":0,"type":"quantitative","scale":{"domain":[0,80],"range":[762,1114],"nice":false,"zero":false},
       "axis":{"orient":"bottom","offset":-530,"values":[0,20,40,60,80],"tickSize":10,"labelFontSize":31,"labelPadding":24,"title":"时 间  (h)","titleFontSize":30,"titleFontWeight":"bold","titleColor":"#222","titlePadding":10}},
  "x2":{"datum":80},
  "y":{"datum":5.6,"type":"quantitative","scale":{"domain":[5.6,30],"range":[314,66],"nice":false,"zero":false},
       "axis":{"orient":"left","offset":-762,"values":[10,20,30],"tickSize":10,"labelFontSize":31,"labelPadding":22,"title":"电流密度 (A/m³)","titleFontSize":34,"titleFontWeight":"normal","titleColor":"#888","titlePadding":4}},
  "y2":{"datum":30}
 }},
{"data":{"name":"inset"},
 "mark":{"type":"line","strokeWidth":1.8,"color":"#000"},
 "encoding":{"x":{"field":"t","type":"quantitative"},"y":{"field":"v","type":"quantitative"}}},
{"data":{"name":"inset"},
 "transform":[{"filter":"datum.c > 0"}],
 "mark":{"type":"line","strokeWidth":14,"strokeCap":"round","strokeJoin":"round","color":"#000"},
 "encoding":{"x":{"field":"t","type":"quantitative"},"y":{"field":"v","type":"quantitative"},"detail":{"field":"c"}}},
{"data":{"name":"inset"},
 "transform":[{"filter":"datum.c == 0"}],
 "mark":{"type":"point","filled":true,"size":150,"color":"#000","opacity":1},
 "encoding":{"x":{"field":"t","type":"quantitative"},"y":{"field":"v","type":"quantitative"}}}
]
}
],
"resolve":{"scale":{"x":"independent","y":"independent"},"axis":{"x":"independent","y":"independent"}}
}
